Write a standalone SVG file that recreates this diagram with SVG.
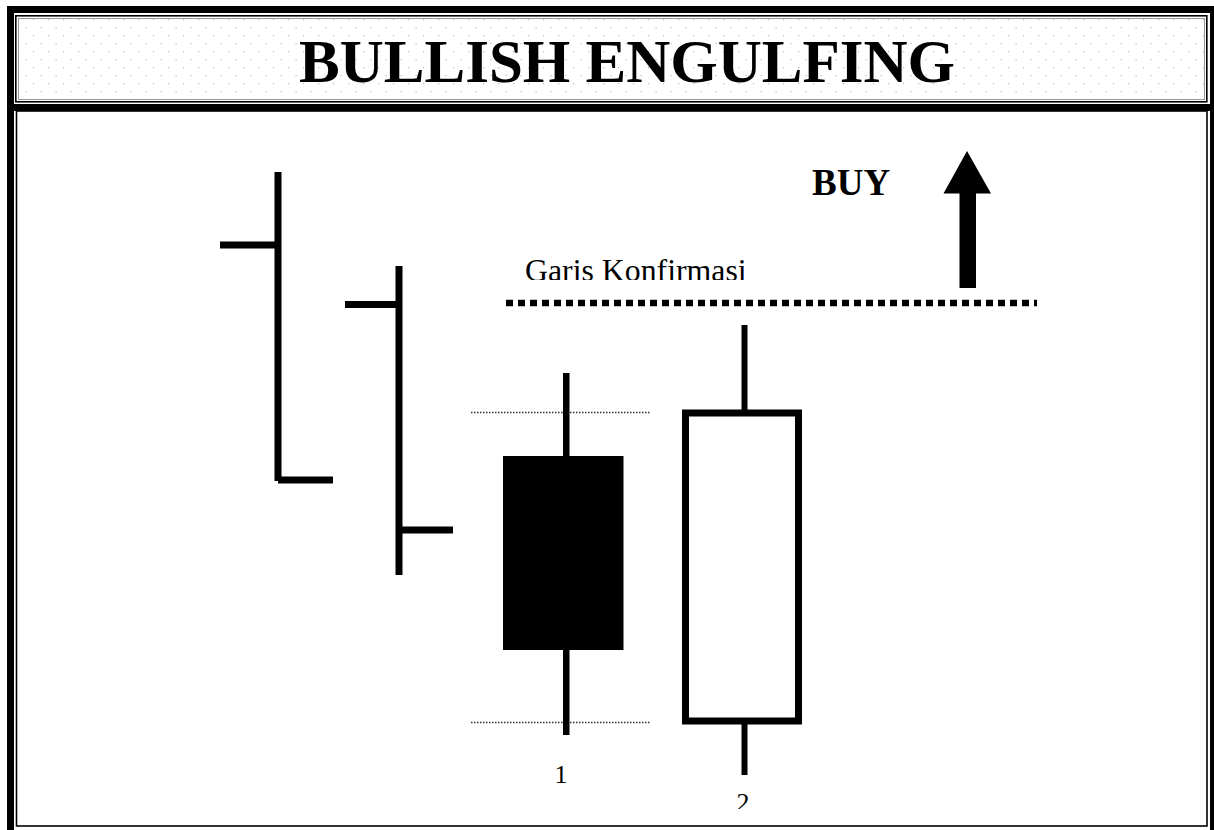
<svg xmlns="http://www.w3.org/2000/svg" width="1214" height="830" viewBox="0 0 1214 830">
  <style>
    .bar { fill: #000; }
    .thin { fill: none; stroke: #000; stroke-width: 1.6; }
    .gray { fill: none; stroke: #999; stroke-width: 1; }
    .guide { stroke: #333; stroke-width: 1.5; stroke-dasharray: 1.5 1.5; fill: none; }
    .serif { font-family: "Liberation Serif", "Times New Roman", serif; fill: #000; }
  </style>
  <defs>
    <pattern id="dots" x="0" y="0" width="15" height="16" patternUnits="userSpaceOnUse">
      <rect x="3" y="3" width="1.2" height="1.2" fill="#b8b8b8"/>
      <rect x="10.5" y="11" width="1.2" height="1.2" fill="#b8b8b8"/>
    </pattern>
    <clipPath id="clipGaris"><rect x="0" y="0" width="1214" height="280"/></clipPath>
    <clipPath id="clipTwo"><rect x="0" y="0" width="1214" height="809"/></clipPath>
  </defs>
  <rect x="0" y="0" width="1214" height="830" fill="#fff"/>

  <g id="frame">
    <rect x="16" y="16" width="1191" height="86" fill="url(#dots)"/>
    <rect x="15.8" y="15.8" width="1191" height="86" class="thin"/>
    <rect x="18.5" y="18.5" width="1186" height="81" class="gray"/>
    <rect x="10.5" y="9.5" width="1203" height="840" fill="none" stroke="#000" stroke-width="7"/>
    <rect x="7" y="104" width="1207" height="7" class="bar"/>
    <rect x="16.5" y="111" width="1190.5" height="715" class="thin"/>
  </g>

  <g id="title">
    <text class="serif" x="627" y="82" font-size="61" font-weight="bold" text-anchor="middle">BULLISH ENGULFING</text>
  </g>

  <g id="candle-a">
    <rect x="274.5" y="172" width="7" height="309" class="bar"/>
    <rect x="220" y="241.5" width="55" height="7" class="bar"/>
    <rect x="278" y="476.5" width="55" height="7" class="bar"/>
  </g>

  <g id="candle-b">
    <rect x="395.5" y="266" width="7" height="309" class="bar"/>
    <rect x="345" y="301" width="51" height="7" class="bar"/>
    <rect x="402" y="526.5" width="51" height="7" class="bar"/>
  </g>

  <g id="range-guides">
    <line x1="471" y1="412.5" x2="650" y2="412.5" class="guide"/>
    <line x1="471" y1="722.5" x2="650" y2="722.5" class="guide"/>
  </g>

  <g id="candle-1">
    <rect x="563" y="373" width="6.5" height="362" class="bar"/>
    <rect x="503" y="456" width="120.5" height="194" class="bar"/>
    <text class="serif" x="561" y="783" font-size="26" text-anchor="middle">1</text>
  </g>

  <g id="candle-2">
    <rect x="741.5" y="325" width="6" height="88" class="bar"/>
    <rect x="741.5" y="721" width="6" height="54" class="bar"/>
    <rect x="685.5" y="413" width="113" height="308" fill="#fff" stroke="#000" stroke-width="7"/>
    <text class="serif" x="743" y="811" font-size="26" text-anchor="middle" clip-path="url(#clipTwo)">2</text>
  </g>

  <g id="confirmation">
    <line x1="506" y1="303" x2="1037" y2="303" stroke="#000" stroke-width="6.5" stroke-dasharray="7 5"/>
    <text class="serif" x="525" y="281" font-size="31.8" clip-path="url(#clipGaris)">Garis Konfirmasi</text>
  </g>

  <g id="buy">
    <text class="serif" x="812" y="195" font-size="37" font-weight="bold">BUY</text>
    <polygon points="967,151 991,193.5 976,193.5 976,288 959.5,288 959.5,193.5 943.5,193.5" fill="#000"/>
  </g>
</svg>
